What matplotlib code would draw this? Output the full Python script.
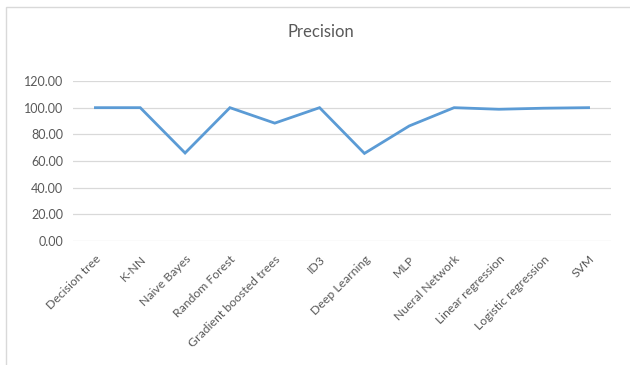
import matplotlib
matplotlib.use("Agg")
import matplotlib.pyplot as plt
from matplotlib.patches import Rectangle
from matplotlib.ticker import FormatStrFormatter
from matplotlib.transforms import ScaledTranslation

plt.rcParams['font.family'] = ['Lato', 'DejaVu Sans']

models = ['Decision tree', 'K-NN', 'Naive Bayes', 'Random Forest',
          'Gradient boosted trees', 'ID3', 'Deep Learning', 'MLP',
          'Nueral Network', 'Linear regression', 'Logistic regression', 'SVM']
precision = [100.0, 100.0, 66.0, 100.0, 88.4, 100.0, 65.7, 86.3,
             100.0, 98.8, 99.6, 100.0]
yticks = [0, 20, 40, 60, 80, 100, 120]

text_grey = '#595959'
grid_grey = '#D9D9D9'

fig = plt.figure(figsize=(6.3, 3.65), dpi=100)

# chart frame
fig.patches.append(Rectangle((6 / 630, -0.1), 1.0, 1 - 7 / 365 + 0.1,
                             transform=fig.transFigure, fill=False,
                             edgecolor=grid_grey, linewidth=1.0))

ax = fig.add_axes([73 / 630, 1 - 241 / 365, 538 / 630, 160 / 365])
x = range(len(models))
ax.plot(x, precision, color='#5B9BD5', linewidth=2.0, solid_joinstyle='miter')

ax.set_xlim(-0.5, len(models) - 0.5)
ax.set_ylim(0, 120)
ax.set_yticks(yticks)
ax.yaxis.set_major_formatter(FormatStrFormatter('%.2f'))
ax.grid(axis='y', color=grid_grey, linewidth=0.9)
ax.set_axisbelow(True)
for s in ax.spines.values():
    s.set_visible(False)
ax.tick_params(length=0, labelcolor=text_grey)
ax.tick_params(axis='y', labelsize=9, pad=7)

ax.set_xticks(list(x))
ax.set_xticklabels(models, rotation=45, ha='right', va='top',
                   rotation_mode='anchor', fontsize=8.8)
shift = ScaledTranslation(3 / 100, 0, fig.dpi_scale_trans)
for lbl in ax.get_xticklabels():
    lbl.set_transform(lbl.get_transform() + shift)
ax.tick_params(axis='x', pad=9)

fig.text(321 / 630, 1 - 32 / 365, 'Precision', ha='center', va='center',
         fontsize=12, color=text_grey)

fig.savefig('out.png', dpi=100)
